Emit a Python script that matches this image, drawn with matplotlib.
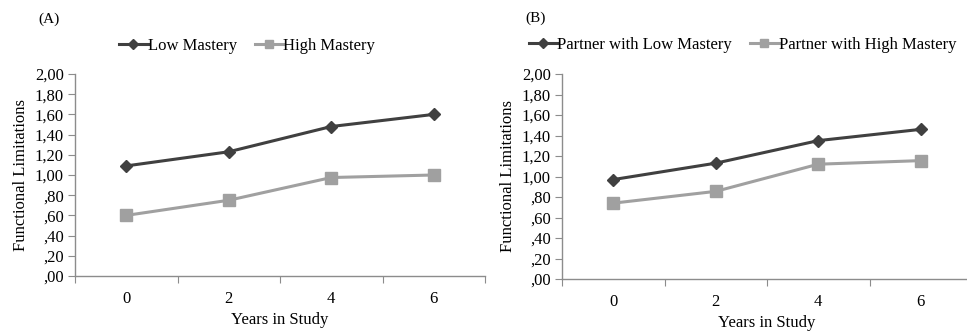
import matplotlib.pyplot as plt

years = ['0', '2', '4', '6']

low_a = [1.09, 1.23, 1.48, 1.60]
high_a = [0.60, 0.75, 0.975, 1.00]

low_b = [0.97, 1.13, 1.35, 1.46]
high_b = [0.74, 0.855, 1.12, 1.155]

yticks = [0.0, 0.2, 0.4, 0.6, 0.8, 1.0, 1.2, 1.4, 1.6, 1.8, 2.0]

DARK = '#404040'
LIGHT = '#a0a0a0'
AXIS = '#8c8c8c'

plt.rcParams['font.family'] = ['Liberation Serif', 'DejaVu Serif']


def fmt(v):
    s = '%.2f' % v
    s = s.replace('.', ',')
    if s.startswith('0'):
        s = s[1:]
    return s


def panel(ax, low, high, lab_low, lab_high, tag, leg_x):
    x = range(len(years))
    ax.plot(x, low, color=DARK, lw=2.2, marker='D', ms=6.5, label=lab_low)
    ax.plot(x, high, color=LIGHT, lw=2.2, marker='s', ms=8.5, label=lab_high)
    ax.set_xlim(-0.5, 3.5)
    ax.set_ylim(0, 2.0)
    ax.set_yticks(yticks)
    ax.set_yticklabels([fmt(v) for v in yticks])
    ax.set_xticks([-0.5, 0.5, 1.5, 2.5, 3.5])
    ax.set_xticklabels([])
    ax.set_xticks(list(x), minor=True)
    ax.set_xticklabels(years, minor=True)
    ax.tick_params(axis='x', which='major', length=5, color=AXIS, direction='out')
    ax.tick_params(axis='x', which='minor', length=0, labelsize=12, pad=10.5)
    ax.tick_params(axis='y', length=5, color=AXIS, labelsize=12, pad=3)
    for s in ['top', 'right']:
        ax.spines[s].set_visible(False)
    for s in ['left', 'bottom']:
        ax.spines[s].set_color(AXIS)
        ax.spines[s].set_linewidth(1.0)
    ax.set_xlabel('Years in Study', fontsize=12, labelpad=4)
    ax.set_ylabel('Functional Limitations', fontsize=12, labelpad=4)
    ax.legend(loc='center', bbox_to_anchor=(leg_x, 1.14), ncol=2, frameon=False,
              fontsize=12, handlelength=1.7, handletextpad=0.0, columnspacing=1.1,
              borderaxespad=0, markerscale=0.75)
    ax.text(-0.09, 1.27, tag, transform=ax.transAxes, fontsize=11, ha='left', va='center')


fig = plt.figure(figsize=(9.67, 3.33), dpi=100)
W, H = 967.0, 333.0
ax1 = fig.add_axes([75 / W, 57 / H, 410 / W, 202 / H])
ax2 = fig.add_axes([562 / W, 54 / H, 410 / W, 205 / H])

panel(ax1, low_a, high_a, 'Low Mastery', 'High Mastery', '(A)', 0.42)
panel(ax2, low_b, high_b, 'Partner with Low Mastery', 'Partner with High Mastery', '(B)', 0.44)

fig.savefig('out.png', dpi=100)
